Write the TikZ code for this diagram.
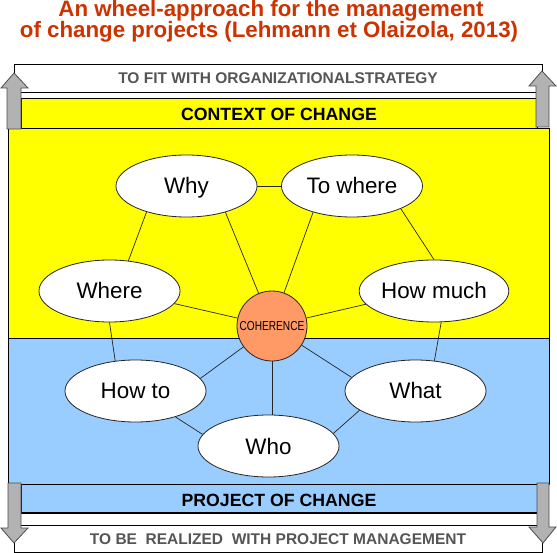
\documentclass[tikz,border=0pt]{standalone}
\usepackage{fontspec}
\setmainfont{Liberation Sans}
\usetikzlibrary{shapes.geometric}
\definecolor{ctxyellow}{RGB}{255,255,0}
\definecolor{prjblue}{RGB}{153,204,255}
\definecolor{cohorange}{RGB}{255,153,102}
\definecolor{titlered}{RGB}{204,51,0}
\definecolor{bandgray}{RGB}{85,85,85}
\definecolor{arrowgray}{RGB}{178,178,178}
\begin{document}
\begin{tikzpicture}[x=1pt,y=-1pt,
 q/.style={ellipse,draw=black!85,line width=0.8pt,fill=white,minimum width=141pt,minimum height=62pt,inner sep=0pt,text height=16pt,text depth=0pt,font=\fontsize{22.4}{26}\selectfont},
 link/.style={draw=black!85,line width=0.7pt},
 band/.style={draw=black,line width=0.9pt},
 whiteband/.style={band,fill=white,minimum width=528pt,inner sep=0pt,text height=12pt,text depth=0pt,text=bandgray,font=\bfseries\fontsize{15.5}{18}\selectfont},
 colorband/.style={band,minimum width=516pt,inner sep=0pt,text height=15pt,text depth=0pt,text=black,font=\bfseries\fontsize{17.7}{20}\selectfont},
 titletext/.style={anchor=base,text=titlered,font=\bfseries\fontsize{22.3}{26}\selectfont,inner sep=0pt},
 bigarrow/.style={fill=arrowgray,draw=black!70,line width=0.8pt,line join=miter}]
\useasboundingbox (0,0) rectangle (557,553);
% title
\node[titletext] (t1) at (271,17) {An wheel-approach for the management};
\node[titletext] (t2) at (269,38) {of change projects (Lehmann et Olaizola, 2013)};
% main areas
\fill[ctxyellow] (8,128) rectangle (549,338);
\fill[prjblue] (8,338) rectangle (549,484);
\draw[band] (8,128) rectangle (549,484);
\draw[band] (8,338) -- (549,338);
% bands
\node[whiteband,minimum height=28pt] (fit) at (278,78) {TO FIT WITH ORGANIZATIONALSTRATEGY};
\node[colorband,fill=ctxyellow,minimum height=30pt] (ctx) at (279,113) {CONTEXT OF CHANGE};
\node[colorband,fill=prjblue,minimum height=29pt] (prj) at (279,498.5) {PROJECT OF CHANGE};
\draw[line width=2pt] (prj.south west) -- (prj.south east);
\node[whiteband,minimum height=27pt] (real) at (278,538.5) {TO BE\ \ REALIZED\ \ WITH PROJECT MANAGEMENT};
% arrows
\draw[bigarrow] (7,129) -- (7,88) -- (1,88) -- (14,73) -- (28,88) -- (21,88) -- (21,129) -- cycle;
\draw[bigarrow] (536,127) -- (536,86) -- (529,86) -- (542,71) -- (556,86) -- (549,86) -- (549,127) -- cycle;
\draw[bigarrow] (8,483) -- (8,528) -- (1,528) -- (14,543) -- (28,528) -- (21,528) -- (21,483) -- cycle;
\draw[bigarrow] (537,483) -- (537,527) -- (529,527) -- (543,543) -- (556,527) -- (549,527) -- (549,483) -- cycle;
% wheel
\node[q] (why) at (186.5,186) {Why};
\node[q] (towhere) at (352,186) {To where};
\node[q] (where) at (109.5,291) {Where};
\node[q] (howmuch) at (434,291) {How much};
\node[q] (howto) at (135.5,391) {How to};
\node[q] (what) at (415.5,391) {What};
\node[q] (who) at (268.5,446) {Who};
\node[circle,draw=black!85,line width=0.8pt,fill=cohorange,minimum size=70pt,inner sep=0pt,font=\fontsize{13}{14}\selectfont] (coh) at (272,326) {\scalebox{0.78}[1]{COHERENCE}};
\draw[link] (why.east) -- (towhere.west);
\draw[link] (why.213) -- (where.58);
\draw[link] (why.326) -- (coh);
\draw[link] (towhere.214) -- (coh);
\draw[link] (towhere.335) -- (howmuch.90);
\draw[link] (where.349) -- (coh);
\draw[link] (howmuch.191) -- (coh);
\draw[link] (where.270) -- (howto.124);
\draw[link] (howmuch.283) -- (what.58);
\draw[link] (howto.11) -- (coh);
\draw[link] (what.168) -- (coh);
\draw[link] (howto.327) -- (who.170);
\draw[link] (what.199) -- (who.11);
\draw[link] (coh) -- (coh |- who.north);
\end{tikzpicture}
\end{document}
